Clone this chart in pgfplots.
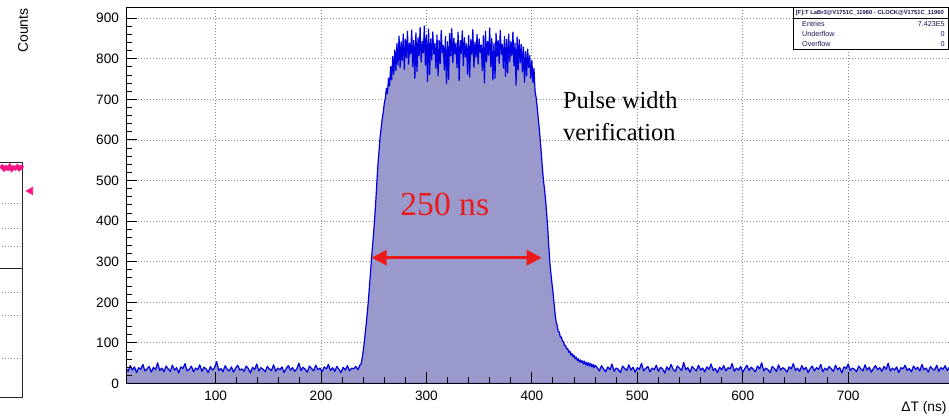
\documentclass[border=0pt]{standalone}
\usepackage{fontspec}
\setmainfont{Liberation Sans}
\newfontfamily\serifj{Liberation Serif}
\usepackage{graphicx}
\usepackage{pgfplots}
\pgfplotsset{compat=1.18}
\usetikzlibrary{arrows.meta}

\definecolor{histfill}{RGB}{153,153,204}
\definecolor{histline}{RGB}{0,0,225}
\definecolor{arrowred}{RGB}{235,25,25}
\definecolor{rootpink}{RGB}{250,20,130}
\definecolor{gridgray}{RGB}{140,140,140}
\definecolor{statnavy}{RGB}{25,25,85}

% grid under the histogram, ticks and frame over it (as ROOT draws)
\pgfplotsset{
  layers/rootlike/.define layer set={axis background,axis grid,pre main,main,axis ticks,axis lines,axis tick labels,axis descriptions,axis foreground}{
    grid style={/pgfplots/on layer=axis grid},
    tick style={/pgfplots/on layer=axis ticks},
    axis line style={/pgfplots/on layer=axis lines},
    ticklabel style={/pgfplots/on layer=axis tick labels},
    label style={/pgfplots/on layer=axis descriptions},
  },
}

\begin{document}
\begin{tikzpicture}

% ---- strip of the neighbouring pad, cut off at the left ----
\begin{axis}[at={(-20pt,9.5pt)},anchor=south west,width=31.5pt,height=117.5pt,scale only axis,
  xmin=0,xmax=1,ymin=0,ymax=1,xtick=\empty,ytick={0.170,0.353,0.451,0.643,0.723,0.826},yticklabels={},
  ymajorgrids,major tick length=0pt,
  grid style={gridgray,line width=0.4pt,dash pattern=on 0.5pt off 1pt},
  axis line style={black!85,line width=0.5pt},clip=false]
\addplot[rootpink,line width=2pt,no marks] coordinates {(0.64,0.978) (0.67,0.984) (0.70,0.974) (0.73,0.982) (0.76,0.976) (0.79,0.986) (0.82,0.973) (0.85,0.981) (0.88,0.977) (0.91,0.985) (0.94,0.975) (0.97,0.983) (1.0,0.978)};
\addplot[only marks,mark=triangle*,mark size=2.1pt,mark options={rotate=90,fill=rootpink,draw=rootpink}] coordinates {(1.12,0.881)};
\end{axis}
\draw[black!85,line width=0.5pt] (0pt,74pt) -- (11.5pt,74pt);

% ---- main histogram ----
\begin{axis}[set layers=rootlike,
  at={(63pt,16.75pt)},anchor=south west,width=413pt,height=188.1pt,scale only axis,
  xmin=15,xmax=798.5,ymin=0,ymax=927,
  xtick={100,200,...,700},ytick={0,100,...,900},
  minor x tick num=4,minor y tick num=4,
  xtick pos=bottom,ytick pos=left,tick align=inside,
  major tick length=5.5pt,minor tick length=3pt,
  tick style={black,line width=0.5pt},
  axis line style={black,line width=0.5pt},
  xmajorgrids,ymajorgrids,
  grid style={gridgray,line width=0.45pt,dash pattern=on 0.5pt off 1pt},
  tick label style={font=\fontsize{6.8}{8}\selectfont},
  /pgf/number format/assume math mode=true]
\addplot[draw=histline,line width=0.6pt,fill=histfill,line join=round] coordinates {
(15,38) (17,30) (19,44) (21,33) (23,41) (25,27) (27,39) (29,35) (31,47) (33,31) (35,36) (37,42) (39,28) (41,40) (43,34) (45,51) (47,32) (49,38) (51,29) (53,43)
(55,36) (57,30) (59,45) (61,33) (63,39) (65,26) (67,41) (69,37) (71,49) (73,31) (75,35) (77,43) (79,29) (81,38) (83,34) (85,46) (87,30) (89,40) (91,36) (93,27)
(95,42) (97,33) (99,39) (101,54) (103,32) (105,37) (107,29) (109,44) (111,35) (113,31) (115,41) (117,28) (119,38) (121,45) (123,33) (125,36) (127,30) (129,43) (131,37) (133,26)
(135,40) (137,34) (139,48) (141,31) (143,39) (145,35) (147,29) (149,42) (151,36) (153,32) (155,46) (157,30) (159,38) (161,34) (163,41) (165,27) (167,37) (169,44) (171,33) (173,39)
(175,30) (177,36) (179,50) (181,32) (183,40) (185,35) (187,28) (189,43) (191,37) (193,31) (195,45) (197,34) (199,38) (201,29) (203,41) (205,36) (207,47) (209,32) (211,39) (213,30)
(215,42) (217,35) (219,27) (221,40) (223,33) (225,44) (227,31) (229,38) (231,36) (233,42) (235,34) (237,46)
(238,48) (239,62) (240,80) (241,101) (242,126) (243,150) (244,178) (245,206) (246,242) (247,276) (248,312) (249,343) (250,376) (251,412) (252,452) (253,498) (254,540) (255,572) (256,606) (257,628)
(258,652) (259,668) (260,690) (261,702) (262,728) (263,714) (264,752) (265,733) (266,781) (267,748) (268,806) (269,762) (270,822) (271,771) (272,838) (273,785) (274,856) (275,779) (276,842) (277,796)
(278,861) (279,774) (280,848) (281,803) (282,868) (283,787) (284,839) (285,812) (286,871) (287,781) (288,846) (289,752) (290,864) (291,769) (292,852) (293,808) (294,877) (295,792) (296,843) (297,815)
(298,881) (299,784) (300,858) (301,744) (302,873) (303,761) (304,849) (305,797) (306,866) (307,812) (308,838) (309,776) (310,859) (311,758) (312,846) (313,788) (314,870) (315,815) (316,833) (317,772)
(318,855) (319,739) (320,842) (321,749) (322,862) (323,807) (324,874) (325,790) (326,851) (327,812) (328,839) (329,778) (330,866) (331,746) (332,845) (333,814) (334,869) (335,783) (336,852) (337,805)
(338,837) (339,762) (340,858) (341,755) (342,847) (343,811) (344,872) (345,779) (346,841) (347,804) (348,860) (349,787) (350,849) (351,815) (352,834) (353,771) (354,857) (355,741) (356,868) (357,792)
(358,843) (359,809) (360,876) (361,781) (362,850) (363,748) (364,838) (365,752) (366,863) (367,806) (368,845) (369,789) (370,870) (371,812) (372,836) (373,777) (374,855) (375,757) (376,848) (377,765)
(378,861) (379,794) (380,842) (381,808) (382,866) (383,783) (384,839) (385,735) (386,854) (387,772) (388,847) (389,791) (390,835) (391,768) (392,829) (393,742) (394,818) (395,758) (396,824) (397,779)
(398,808) (399,752) (400,796) (401,741) (402,776) (403,720) (404,705) (405,682) (406,655) (407,628) (408,598) (409,565) (410,530) (411,500) (412,478) (413,452) (414,420) (415,384) (416,340) (417,300)
(418,272) (419,248) (420,226) (421,198) (422,172) (423,152) (424,143) (425,128) (426,127) (427,114) (428,115) (429,104) (430,103) (431,93) (432,94) (433,85) (434,86) (435,77) (436,80) (437,70)
(438,74) (439,66) (440,70) (441,61) (442,65) (443,57) (444,61) (445,53) (446,58) (447,52) (448,56) (449,48) (450,55) (451,46) (452,52) (453,44) (454,51) (455,43) (456,49) (457,41) (458,47) (459,39) (460,45)
(462,39) (464,31) (466,44) (468,36) (470,29) (472,41) (474,34) (476,48) (478,30) (480,38) (482,35) (484,27) (486,43) (488,37) (490,32) (492,46) (494,33) (496,40) (498,28) (500,39)
(502,35) (504,50) (506,31) (508,37) (510,42) (512,29) (514,38) (516,34) (518,45) (520,30) (522,40) (524,36) (526,26) (528,41) (530,33) (532,47) (534,35) (536,30) (538,43) (540,38)
(542,32) (544,52) (546,34) (548,39) (550,28) (552,42) (554,36) (556,31) (558,45) (560,33) (562,38) (564,29) (566,41) (568,35) (570,48) (572,32) (574,37) (576,27) (578,40) (580,34)
(582,44) (584,31) (586,39) (588,36) (590,49) (592,30) (594,38) (596,33) (598,42) (600,28) (602,37) (604,45) (606,32) (608,40) (610,35) (612,29) (614,43) (616,36) (618,51) (620,31)
(622,38) (624,34) (626,27) (628,42) (630,37) (632,30) (634,46) (636,33) (638,39) (640,35) (642,28) (644,41) (646,36) (648,49) (650,32) (652,38) (654,30) (656,44) (658,34) (660,40)
(662,27) (664,37) (666,43) (668,31) (670,39) (672,35) (674,47) (676,29) (678,38) (680,33) (682,42) (684,36) (686,30) (688,45) (690,34) (692,39) (694,26) (696,41) (698,37) (700,48)
(702,32) (704,38) (706,35) (708,29) (710,43) (712,36) (714,31) (716,46) (718,33) (720,40) (722,28) (724,37) (726,44) (728,34) (730,39) (732,30) (734,42) (736,35) (738,50) (740,31)
(742,38) (744,33) (746,41) (748,27) (750,39) (752,36) (754,45) (756,32) (758,37) (760,29) (762,43) (764,35) (766,40) (768,31) (770,47) (772,34) (774,38) (776,28) (778,42) (780,36)
(782,33) (784,45) (786,30) (788,39) (790,35) (792,44) (794,32) (796,40) (798,37)
} \closedcycle;
\draw[arrowred,line width=1.6pt,{Triangle[length=7.5pt,width=7.5pt]}-{Triangle[length=7.5pt,width=7.5pt]}] (axis cs:248,310) -- (axis cs:409.3,310);
\end{axis}

% ---- annotations ----
\node[anchor=base west,inner sep=0,text=arrowred,font=\serifj\fontsize{16.8}{18}\selectfont] at (200pt,100.5pt) {250 ns};
\node[anchor=base west,inner sep=0,font=\serifj\fontsize{12.2}{14}\selectfont] at (281.35pt,154.35pt) {Pulse width};
\node[anchor=base west,inner sep=0,font=\serifj\fontsize{12.2}{14}\selectfont] at (281.35pt,138pt) {verification};

% axis titles
\node[rotate=90,anchor=east,inner sep=0,font=\fontsize{7}{8}\selectfont] at (11.5pt,204.5pt) {Counts};
\node[anchor=east,inner sep=0,font=\fontsize{6.9}{8}\selectfont] at (473.5pt,4.5pt) {ΔT (ns)};

% statistics box
\fill[white] (396.5pt,183.5pt) rectangle (474.2pt,204.5pt);
\draw[black,line width=0.5pt] (396.5pt,183.5pt) rectangle (474.2pt,204.5pt);
\draw[black,line width=0.4pt] (396.5pt,199.5pt) -- (474.2pt,199.5pt);
\node[inner sep=0,text=statnavy] at (434.9pt,202pt) {\resizebox{74pt}{!}{\bfseries [F]:T LaBr3@V1751C\_11960 - CLOCK@V1751C\_11960}};
\begin{scope}[every node/.style={inner sep=0,text=statnavy,font=\fontsize{3.6}{4}\selectfont}]
\node[anchor=west] at (400.9pt,196.5pt) {Entries};
\node[anchor=east] at (472.5pt,196.5pt) {7.423E5};
\node[anchor=west] at (400.9pt,191.5pt) {Underflow};
\node[anchor=east] at (472.5pt,191.5pt) {0};
\node[anchor=west] at (400.9pt,186.5pt) {Overflow};
\node[anchor=east] at (472.5pt,186.5pt) {0};
\end{scope}

\pgfresetboundingbox
\useasboundingbox (0pt,0pt) rectangle (474.5pt,208.5pt);
\end{tikzpicture}
\end{document}
